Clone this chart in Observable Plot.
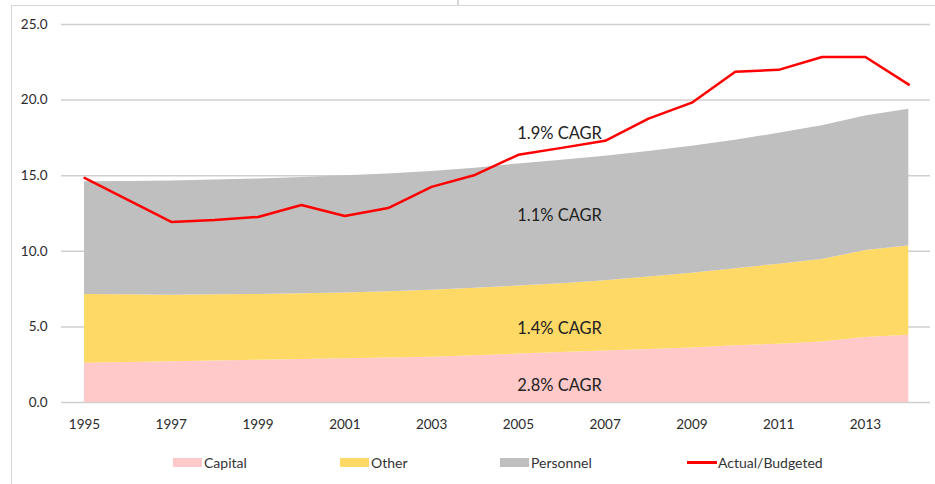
<!DOCTYPE html>
<html>
<head>
<meta charset="utf-8">
<script src="https://cdn.jsdelivr.net/npm/d3@7"></script>
<script src="https://cdn.jsdelivr.net/npm/@observablehq/plot@0.6"></script>
<style>
  html, body { margin: 0; padding: 0; background: #fff; }
  body { width: 935px; height: 484px; position: relative; overflow: hidden; font-family: Lato, "Open Sans", sans-serif; }
  #chart { position: absolute; left: 0; top: 0; }
  .frame-top { position: absolute; left: 11px; top: 5px; width: 924px; height: 1px; background: #d6d6d6; }
  .frame-left { position: absolute; left: 11px; top: 5px; width: 1px; height: 479px; background: #d6d6d6; }
  .frame-tick { position: absolute; left: 457px; top: 0; width: 2px; height: 6px; background: #d6d6d6; }
  #legend { position: absolute; left: 0; top: 440px; width: 935px; height: 44px; font-size: 14px; color: #333; }
  .item { position: absolute; top: 0; height: 44px; display: flex; align-items: center; }
  .sw { display: inline-block; width: 29px; height: 9px; margin-right: 2px; }
  .ln { display: inline-block; width: 30px; height: 3px; margin-right: 1px; }
</style>
</head>
<body>
<div class="frame-top"></div>
<div class="frame-left"></div>
<div class="frame-tick"></div>
<div id="chart"></div>
<div id="legend"></div>
<script>
// ---- data ----
const years = [1995, 1996, 1997, 1998, 1999, 2000, 2001, 2002, 2003, 2004,
               2005, 2006, 2007, 2008, 2009, 2010, 2011, 2012, 2013, 2014];
const capital   = [2.60, 2.65, 2.70, 2.75, 2.80, 2.85, 2.90, 2.95, 3.00, 3.10,
                   3.20, 3.30, 3.40, 3.50, 3.60, 3.75, 3.85, 4.00, 4.30, 4.45];
const other     = [4.55, 4.47, 4.40, 4.37, 4.35, 4.35, 4.35, 4.37, 4.42, 4.45,
                   4.50, 4.55, 4.65, 4.80, 4.95, 5.10, 5.30, 5.45, 5.75, 5.90];
const personnel = [7.45, 7.50, 7.55, 7.60, 7.63, 7.68, 7.75, 7.80, 7.86, 7.95,
                   8.08, 8.17, 8.23, 8.30, 8.40, 8.50, 8.65, 8.85, 8.90, 9.05];
const actual    = [14.85, 13.40, 11.94, 12.07, 12.27, 13.06, 12.33, 12.86, 14.26, 15.05,
                   16.38, 16.84, 17.31, 18.77, 19.83, 21.88, 22.00, 22.85, 22.85, 21.02];
const seriesNames = ["Capital", "Other", "Personnel"];
const seriesColors = ["#FFC9C9", "#FFD966", "#BFBFBF"];
const lineName = "Actual/Budgeted";
const lineColor = "#FF0000";
const yTickValues = [0, 5, 10, 15, 20, 25];
const xTickValues = [1995, 1997, 1999, 2001, 2003, 2005, 2007, 2009, 2011, 2013];
const cagrLabels = ["1.9% CAGR", "1.1% CAGR", "1.4% CAGR", "2.8% CAGR"];
const cagrYear = [2005.95, 2005.95, 2005.95, 2005.95];
const cagrValue = [17.8, 12.35, 4.9, 1.12];

// ---- tables built from the arrays ----
const seriesValues = [capital, other, personnel];
const stackRows = [];
seriesNames.forEach((name, i) => {
  years.forEach((yr, j) => stackRows.push({year: yr, value: seriesValues[i][j], series: name}));
});
const lineRows = years.map((yr, j) => ({year: yr, value: actual[j]}));
const annotRows = cagrLabels.map((t, i) => ({label: t, year: cagrYear[i], value: cagrValue[i]}));

const chart = Plot.plot({
  width: 935,
  height: 440,
  marginLeft: 61,
  marginRight: 5,
  marginTop: 24,
  marginBottom: 38,
  style: {fontFamily: "Lato, 'Open Sans', sans-serif", fontSize: "13.5px", color: "#2b2b2b", background: "transparent"},
  x: {domain: [1994.47, 2014.5], label: null},
  y: {domain: [0, 25], label: null},
  color: {domain: seriesNames, range: seriesColors},
  marks: [
    Plot.ruleY(yTickValues, {stroke: "#cfcfcf", strokeWidth: 1.5}),
    Plot.areaY(stackRows, {x: "year", y: "value", fill: "series", curve: "linear"}),
    Plot.line(lineRows, {x: "year", y: "value", stroke: lineColor, strokeWidth: 2.5, curve: "linear"}),
    Plot.text(annotRows, {x: "year", y: "value", text: "label", fontSize: 16.5, fill: "#222", fontFamily: "Lato, 'Open Sans', sans-serif"}),
    Plot.axisY({ticks: yTickValues, tickFormat: d => d.toFixed(1), tickSize: 0, tickPadding: 14, label: null}),
    Plot.axisX({ticks: xTickValues, tickFormat: d => String(d), tickSize: 0, tickPadding: 17, label: null})
  ]
});
document.getElementById("chart").appendChild(chart);

// ---- legend (HTML, below the SVG) ----
const legend = document.getElementById("legend");
const legendX = [173, 340, 500, 687];
const legendEntries = [
  ...seriesNames.map((n, i) => ({name: n, color: seriesColors[i], kind: "sw"})),
  {name: lineName, color: lineColor, kind: "ln"}
];
legendEntries.forEach((e, i) => {
  const item = document.createElement("div");
  item.className = "item";
  item.style.left = legendX[i] + "px";
  const s = document.createElement("span");
  s.className = e.kind;
  s.style.background = e.color;
  item.appendChild(s);
  const t = document.createElement("span");
  t.textContent = e.name;
  item.appendChild(t);
  legend.appendChild(item);
});
</script>
</body>
</html>
